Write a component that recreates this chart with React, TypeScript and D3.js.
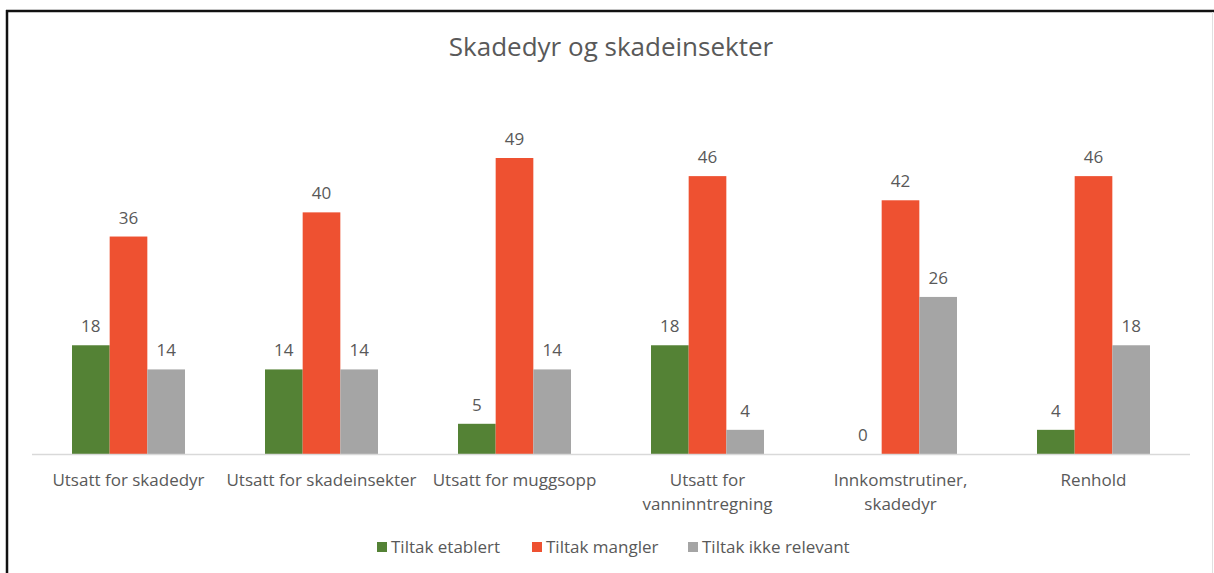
import React, { useRef, useEffect } from 'react';
import * as d3 from 'd3';

const title = 'Skadedyr og skadeinsekter';
const categories = [
  ['Utsatt for skadedyr'],
  ['Utsatt for skadeinsekter'],
  ['Utsatt for muggsopp'],
  ['Utsatt for', 'vanninntregning'],
  ['Innkomstrutiner,', 'skadedyr'],
  ['Renhold'],
];
const seriesNames = ['Tiltak etablert', 'Tiltak mangler', 'Tiltak ikke relevant'];
const etablert = [18, 14, 5, 18, 0, 4];
const mangler = [36, 40, 49, 46, 42, 46];
const ikkeRelevant = [14, 14, 14, 4, 26, 18];
const colors = ['#548235', '#EE5131', '#A5A5A5'];

const App = () => {
  const svgRef = useRef<SVGSVGElement>(null);

  useEffect(() => {
    document.body.style.margin = '0';
    const W = 1214, H = 573;
    const svg = d3.select(svgRef.current).attr('width', W).attr('height', H);
    svg.selectAll('*').remove();
    const font = '"Open Sans", sans-serif';
    const textColor = '#595959';

    // frame
    svg.append('line').attr('x1', 7).attr('x2', 7).attr('y1', 10).attr('y2', H).attr('stroke', '#111').attr('stroke-width', 2.5);
    svg.append('line').attr('x1', 6).attr('x2', W).attr('y1', 11).attr('y2', 11).attr('stroke', '#111').attr('stroke-width', 2.5);
    svg.append('line').attr('x1', 1212.5).attr('x2', 1212.5).attr('y1', 12).attr('y2', H).attr('stroke', '#e0e0e0').attr('stroke-width', 1);

    svg.append('text')
      .attr('x', 611).attr('y', 56)
      .attr('text-anchor', 'middle')
      .attr('font-family', font).attr('font-size', 26)
      .attr('fill', textColor)
      .text(title);

    const keys = categories.map(c => c.join(' '));
    const x0 = d3.scaleBand().domain(keys).range([32, 1190]);
    const bw = x0.bandwidth();
    const groupW = 113;
    const x1 = d3.scaleBand().domain(seriesNames).range([(bw - groupW) / 2, (bw + groupW) / 2]);
    const y = d3.scaleLinear().domain([0, 49]).range([454, 158]);

    const rows = keys.map((k, i) => ({
      key: k,
      values: [etablert[i], mangler[i], ikkeRelevant[i]],
    }));

    const g = svg.selectAll('.grp').data(rows).enter().append('g')
      .attr('transform', d => `translate(${x0(d.key)},0)`);

    g.selectAll('rect').data(d => d.values.map((v, j) => ({ v, j }))).enter().append('rect')
      .attr('x', d => x1(seriesNames[d.j])!)
      .attr('width', x1.bandwidth())
      .attr('y', d => y(d.v))
      .attr('height', d => y(0) - y(d.v))
      .attr('fill', d => colors[d.j]);

    g.selectAll('text.val').data(d => d.values.map((v, j) => ({ v, j }))).enter().append('text')
      .attr('class', 'val')
      .attr('x', d => x1(seriesNames[d.j])! + x1.bandwidth() / 2)
      .attr('y', d => y(d.v) - 13)
      .attr('text-anchor', 'middle')
      .attr('font-family', font).attr('font-size', 17)
      .attr('fill', textColor)
      .text(d => d.v);

    // axis line
    svg.append('line').attr('x1', 32).attr('x2', 1190).attr('y1', 454.5).attr('y2', 454.5)
      .attr('stroke', '#d9d9d9').attr('stroke-width', 1.5);

    categories.forEach((lines, i) => {
      const t = svg.append('text')
        .attr('x', x0(keys[i])! + bw / 2)
        .attr('y', 486)
        .attr('text-anchor', 'middle')
        .attr('font-family', font).attr('font-size', 17)
        .attr('fill', textColor);
      lines.forEach((l, k) => {
        t.append('tspan').attr('x', x0(keys[i])! + bw / 2).attr('dy', k === 0 ? 0 : 24).text(l);
      });
    });

    // legend
    const legendX = [377, 532, 688];
    seriesNames.forEach((s, i) => {
      svg.append('rect').attr('x', legendX[i]).attr('y', 542).attr('width', 10).attr('height', 10).attr('fill', colors[i]);
      svg.append('text').attr('x', legendX[i] + 14).attr('y', 553)
        .attr('font-family', font).attr('font-size', 17)
        .attr('fill', textColor)
        .text(s);
    });
  }, []);

  return <svg ref={svgRef} style={{ display: 'block' }}></svg>;
};

export default App;
